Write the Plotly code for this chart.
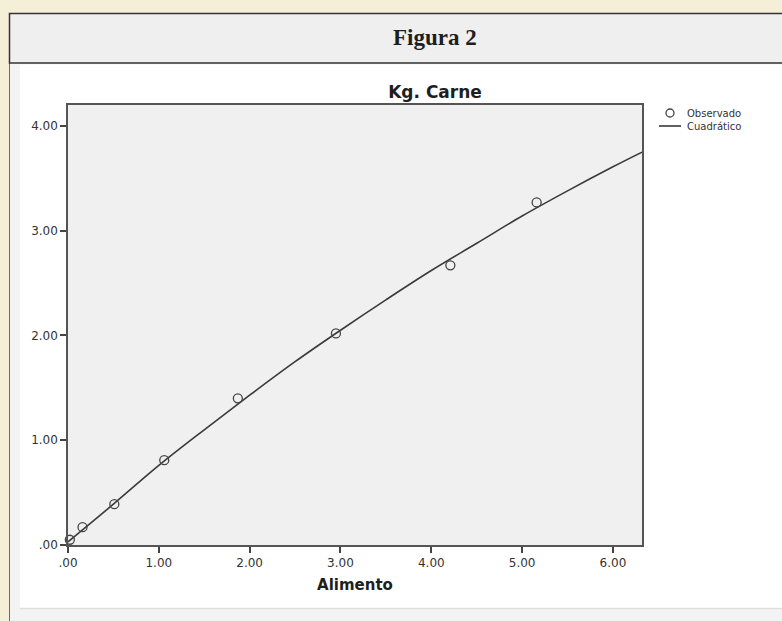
import plotly.graph_objects as go

# ---- data ----
alimento_obs = [0.02, 0.16, 0.51, 1.06, 1.87, 2.95, 4.21, 5.16]
carne_obs = [0.05, 0.17, 0.39, 0.81, 1.40, 2.02, 2.67, 3.27]

curve_x = [0, 0.5, 1, 1.5, 2, 2.5, 3, 3.5, 4, 4.5, 5, 5.5, 6, 6.32]
curve_y = [0.03, 0.39, 0.76, 1.10, 1.43, 1.75, 2.05, 2.34, 2.62, 2.88, 3.14, 3.38, 3.61, 3.75]

x_ticks = [0, 1, 2, 3, 4, 5, 6]
x_ticktext = [".00", "1.00", "2.00", "3.00", "4.00", "5.00", "6.00"]
y_ticks = [0, 1, 2, 3, 4]
y_ticktext = [".00", "1.00", "2.00", "3.00", "4.00"]
legend_labels = ["Observado", "Cuadrático"]

W, H = 782, 621
ML, MR, MT, MB = 68, 140, 105, 76
PW, PH = W - ML - MR, H - MT - MB
BG = "#f6efd8"


def px(x):
    return (x - ML) / PW


def py(y):
    return (H - MB - y) / PH


fig = go.Figure()
fig.add_trace(go.Scatter(
    x=curve_x, y=curve_y, mode="lines", name="Cuadrático",
    line=dict(color="#3a3a3a", width=1.6, shape="spline"), showlegend=False,
))
fig.add_trace(go.Scatter(
    x=alimento_obs, y=carne_obs, mode="markers", name="Observado",
    marker=dict(symbol="circle", size=9, color="rgba(0,0,0,0)",
                line=dict(color="#444444", width=1.3)),
    cliponaxis=False, showlegend=False,
))

shapes = [
    # outer frame
    dict(type="rect", xref="paper", yref="paper", x0=px(9.5), x1=px(800), y0=py(650), y1=py(13.5),
         fillcolor="#f3f3f3", line=dict(color="#6a6a6a", width=1), layer="below"),
    # header band
    dict(type="rect", xref="paper", yref="paper", x0=px(9.5), x1=px(800), y0=py(63), y1=py(13.5),
         fillcolor="#efefef", line=dict(color="#333333", width=1.5), layer="below"),
    # white panel
    dict(type="rect", xref="paper", yref="paper", x0=px(20), x1=px(800), y0=py(608), y1=py(64.5),
         fillcolor="#ffffff", line=dict(width=0), layer="below"),
    dict(type="line", xref="paper", yref="paper", x0=px(20), x1=px(800), y0=py(608.5), y1=py(608.5),
         line=dict(color="#dddddd", width=1.5), layer="below"),
    # plot background
    dict(type="rect", xref="paper", yref="paper", x0=0, x1=1, y0=0, y1=1,
         fillcolor="#f0f0f0", line=dict(width=0), layer="below"),
    # legend symbols
    dict(type="circle", xref="paper", yref="paper", x0=px(666), x1=px(674), y0=py(117), y1=py(109),
         fillcolor="rgba(0,0,0,0)", line=dict(color="#444444", width=1.3)),
    dict(type="line", xref="paper", yref="paper", x0=px(659), x1=px(681), y0=py(126), y1=py(126),
         line=dict(color="#3a3a3a", width=1.6)),
]

annotations = [
    dict(text="<b>Figura 2</b>", xref="paper", yref="paper", x=px(435), y=py(37),
         showarrow=False, xanchor="center", yanchor="middle",
         font=dict(family="Liberation Serif", size=23, color="#1e1e1e")),
    dict(text="<br>".join(legend_labels), xref="paper", yref="paper", x=px(685), y=py(119.5),
         showarrow=False, xanchor="left", yanchor="middle", align="left",
         font=dict(family="DejaVu Sans", size=10, color="#333333")),
]

axis_common = dict(
    showline=True, linecolor="#555555", linewidth=1.5, mirror=True,
    ticks="outside", ticklen=6, tickwidth=2, tickcolor="#444444",
    showgrid=False, zeroline=False,
    tickfont=dict(family="DejaVu Sans", size=12, color="#333333"),
)

fig.update_layout(
    width=W, height=H,
    margin=dict(l=ML, r=MR, t=MT, b=MB, pad=0),
    paper_bgcolor=BG,
    plot_bgcolor="rgba(0,0,0,0)",
    title=dict(text="<b>Kg. Carne</b>", xref="paper", x=px(435), xanchor="center",
               yref="container", y=1 - 92.5 / H, yanchor="middle",
               font=dict(family="DejaVu Sans", size=17, color="#1e1e1e")),
    xaxis=dict(range=[0, 6.32], tickvals=x_ticks, ticktext=x_ticktext,
               title=dict(text="<b>Alimento</b>", standoff=10,
                          font=dict(family="DejaVu Sans", size=15, color="#1e1e1e")),
               **axis_common),
    yaxis=dict(range=[0, 4.2], tickvals=y_ticks, ticktext=y_ticktext, **axis_common),
    shapes=shapes,
    annotations=annotations,
    showlegend=False,
)

fig.write_html(
    "out.html",
    config={"displayModeBar": False},
    post_script="document.body.style.margin='0px';document.body.style.overflow='hidden';"
                "document.body.style.background='" + BG + "';",
)
